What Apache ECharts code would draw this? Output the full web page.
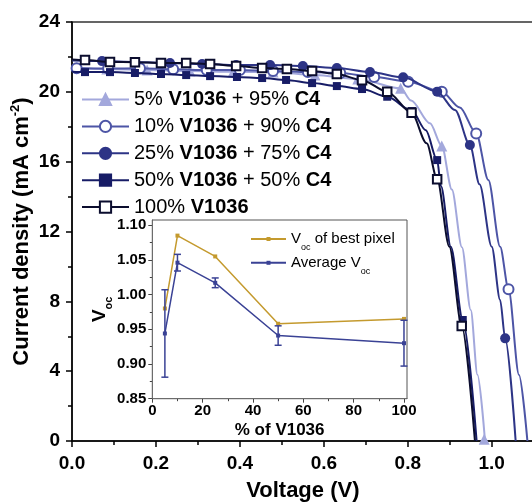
<!DOCTYPE html>
<html><head><meta charset="utf-8">
<script src="https://cdn.jsdelivr.net/npm/echarts@6/dist/echarts.min.js"></script>
<style>html,body{margin:0;padding:0;background:#fff}#c{width:532px;height:502px}</style>
</head><body><div id="c"></div>
<script>
// ---------------- data ----------------
const seriesNames = ['5% V1036 + 95% C4', '10% V1036 + 90% C4', '25% V1036 + 75% C4', '50% V1036 + 50% C4', '100% V1036'];
// J-V curves [voltage V, current density mA cm-2]
const curve5 = [[0,21.35],[0.083,21.31],[0.179,21.25],[0.281,21.19],[0.384,21.15],[0.479,21.13],[0.579,20.96],[0.681,20.73],[0.783,20.20],[0.808,19.5],[0.853,18.2],[0.881,16.9],[0.905,14.4],[0.929,11.1],[0.950,7.5],[0.966,3.8],[0.984,0]];
const marks5 = [[0.083,21.31],[0.179,21.25],[0.281,21.19],[0.384,21.15],[0.479,21.13],[0.579,20.96],[0.681,20.73],[0.783,20.20],[0.881,16.9],[0.982,0.1]];
const curve10 = [[0,21.36],[0.086,21.33],[0.162,21.35],[0.241,21.29],[0.321,21.25],[0.400,21.25],[0.479,21.19],[0.562,21.13],[0.639,21.08],[0.720,20.85],[0.801,20.58],[0.881,20.01],[0.924,19.1],[0.963,17.62],[0.992,14.95],[1.020,11.13],[1.040,8.69],[1.065,3.78],[1.085,0]];
const marks10 = [[0.011,21.35],[0.086,21.33],[0.162,21.35],[0.241,21.29],[0.321,21.25],[0.400,21.25],[0.479,21.19],[0.562,21.13],[0.639,21.08],[0.720,20.85],[0.801,20.58],[0.881,20.01],[0.963,17.62],[1.040,8.69]];
const curve25 = [[0,21.8],[0.0715,21.76],[0.150,21.71],[0.2335,21.65],[0.310,21.59],[0.391,21.53],[0.472,21.53],[0.550,21.48],[0.631,21.36],[0.710,21.13],[0.789,20.83],[0.870,20.01],[0.9125,18.96],[0.948,16.95],[0.971,14.7],[1.000,11.13],[1.020,8.08],[1.032,5.88],[1.057,0]];
const marks25 = [[0.0715,21.76],[0.150,21.71],[0.2335,21.65],[0.310,21.59],[0.391,21.53],[0.472,21.53],[0.550,21.48],[0.631,21.36],[0.710,21.13],[0.789,20.83],[0.870,20.01],[0.948,16.95],[1.032,5.88]];
const curve50 = [[0,21.15],[0.031,21.13],[0.0905,21.13],[0.150,21.08],[0.212,21.02],[0.272,20.96],[0.329,20.90],[0.393,20.85],[0.453,20.79],[0.510,20.68],[0.572,20.50],[0.631,20.33],[0.691,20.16],[0.751,19.72],[0.810,18.9],[0.843,17.8],[0.870,16.09],[0.879,14.6],[0.9025,11.13],[0.931,6.93],[0.964,0]];
const marks50 = [[0.031,21.13],[0.0905,21.13],[0.150,21.08],[0.212,21.02],[0.272,20.96],[0.329,20.90],[0.393,20.85],[0.453,20.79],[0.510,20.68],[0.572,20.50],[0.631,20.33],[0.691,20.16],[0.751,19.72],[0.810,18.9],[0.870,16.09],[0.931,6.93]];
const curve100 = [[0,21.85],[0.031,21.82],[0.0905,21.71],[0.150,21.70],[0.212,21.65],[0.272,21.65],[0.329,21.59],[0.391,21.48],[0.453,21.36],[0.512,21.31],[0.572,21.19],[0.631,21.02],[0.691,20.67],[0.751,20.01],[0.809,18.80],[0.845,17.05],[0.870,14.99],[0.899,11.13],[0.9285,6.59],[0.960,0]];
const marks100 = [[0.031,21.82],[0.0905,21.71],[0.150,21.70],[0.212,21.65],[0.272,21.65],[0.329,21.59],[0.391,21.48],[0.453,21.36],[0.512,21.31],[0.572,21.19],[0.631,21.02],[0.691,20.67],[0.751,20.01],[0.809,18.80],[0.870,14.99],[0.9285,6.59]];
// inset: Voc vs % of V1036
const insetX = [5, 10, 25, 50, 100];
const vocBest = [0.980, 1.085, 1.055, 0.958, 0.965];
const vocAvg = [0.944, 1.046, 1.017, 0.941, 0.930];
const vocErr = [0.063, 0.012, 0.007, 0.014, 0.033];
const insetNames = ['Voc of best pixel', 'Average Voc'];
// tick labels
const xTicks = [0, 0.2, 0.4, 0.6, 0.8, 1.0];
const yTicks = [0, 4, 8, 12, 16, 20, 24];
const insetXTicks = [0, 20, 40, 60, 80, 100];
const insetYTicks = [0.85, 0.90, 0.95, 1.00, 1.05, 1.10];

// ---------------- chart ----------------
const FONT = 'Liberation Sans, Arial, sans-serif';
const colors = ['#a3a8dc', '#4d55a6', '#2d3486', '#171c66', '#0b0d2e'];
const symbols = ['triangle', 'emptyCircle', 'circle', 'rect', 'emptyRect'];
const symSizes = [11, 10, 10, 8, 8.5];
const curves = [curve5, curve10, curve25, curve50, curve100];
const marks = [marks5, marks10, marks25, marks50, marks100];
const GOLD = '#c49a2e', BLUE = '#3a4295';

const series = [];
seriesNames.forEach((n, i) => {
  series.push({
    name: n, type: 'line', xAxisIndex: 0, yAxisIndex: 0,
    data: curves[i], showSymbol: false, symbol: symbols[i], symbolSize: symSizes[i],
    smooth: 0.3, smoothMonotone: 'x', clip: true,
    lineStyle: {color: colors[i], width: 2},
    itemStyle: {color: colors[i], borderColor: colors[i], borderWidth: 2},
    z: 2 + i * 2, silent: true
  });
  series.push({
    name: n + ' markers', type: 'scatter', xAxisIndex: 0, yAxisIndex: 0,
    data: marks[i], symbol: symbols[i], symbolSize: symSizes[i], clip: false,
    itemStyle: {color: colors[i], borderColor: colors[i], borderWidth: symbols[i].indexOf('empty') === 0 ? 2 : 0, opacity: 1},
    z: 3 + i * 2, silent: true
  });
});
series.push({
  name: insetNames[0], type: 'line', xAxisIndex: 2, yAxisIndex: 1,
  data: insetX.map((x, k) => [x, vocBest[k]]), symbol: 'rect', symbolSize: 4, showSymbol: true,
  lineStyle: {color: GOLD, width: 1.5}, itemStyle: {color: GOLD}, z: 10
});
series.push({
  name: insetNames[1], type: 'line', xAxisIndex: 2, yAxisIndex: 1,
  data: insetX.map((x, k) => [x, vocAvg[k]]), symbol: 'rect', symbolSize: 4, showSymbol: true,
  lineStyle: {color: BLUE, width: 1.5}, itemStyle: {color: BLUE}, z: 11
});
series.push({
  name: 'err', type: 'custom', xAxisIndex: 2, yAxisIndex: 1, z: 12,
  data: insetX.map((x, k) => [x, vocAvg[k], vocErr[k]]),
  renderItem: function (params, api) {
    const x = api.value(0), y = api.value(1), e = api.value(2);
    const t = api.coord([x, y + e]), b = api.coord([x, y - e]);
    const hw = 3.5, st = {stroke: BLUE, lineWidth: 1.5};
    return {type: 'group', children: [
      {type: 'line', shape: {x1: t[0], y1: t[1], x2: b[0], y2: b[1]}, style: st},
      {type: 'line', shape: {x1: t[0] - hw, y1: t[1], x2: t[0] + hw, y2: t[1]}, style: st},
      {type: 'line', shape: {x1: b[0] - hw, y1: b[1], x2: b[0] + hw, y2: b[1]}, style: st}
    ]};
  }
});

const boldLbl = {fontFamily: FONT, fontWeight: 'bold', color: '#000'};

const option = {
  animation: false,
  backgroundColor: '#fff',
  grid: [
    {left: 72, top: 22, width: 461.7, height: 419, containLabel: false, outerBoundsMode: 'none',
     show: true, borderColor: '#333', borderWidth: 1.5, backgroundColor: 'transparent'},
    {left: 152.3, top: 220, width: 254.7, height: 178.7, containLabel: false, outerBoundsMode: 'none',
     show: true, borderColor: '#555', borderWidth: 1, backgroundColor: '#fff', z: 5}
  ],
  legend: [
    {
      data: seriesNames, orient: 'vertical', left: 81, top: 89.5, padding: 0, itemWidth: 47, itemHeight: 14, itemGap: 6.9,
      selectedMode: false,
      formatter: function (name) {
        return name.split(' ').map(w => (w === 'V1036' || w === 'C4') ? '{b|' + w + '}' : '{n|' + w + '}').join('{n| }');
      },
      textStyle: {fontFamily: FONT, fontSize: 20, color: '#000',
        rich: {n: {fontFamily: FONT, fontSize: 20, color: '#000', lineHeight: 20},
               b: {fontFamily: FONT, fontSize: 20, fontWeight: 'bold', color: '#000', lineHeight: 20}}}
    },
    {
      data: insetNames, orient: 'vertical', left: 250, top: 231.5, padding: 0, itemWidth: 35, itemHeight: 5, itemGap: 3.3,
      selectedMode: false, z: 20,
      formatter: function (name) {
        if (name.indexOf('Average') === 0) return '{v|Average V}{s|oc}';
        return '{v|V}{s|oc}{v| of best pixel}';
      },
      textStyle: {fontFamily: FONT, fontSize: 15, color: '#000',
        rich: {v: {fontFamily: FONT, fontSize: 15, color: '#000', lineHeight: 20},
               s: {fontFamily: FONT, fontSize: 9, color: '#000', lineHeight: 20, verticalAlign: 'bottom', padding: [0, 0, -3, 0]}}}
    }
  ],
  xAxis: [
    {
      type: 'value', gridIndex: 0, position: 'bottom', min: 0, max: 1.1, interval: 0.2,
      axisLine: {onZero: false, lineStyle: {color: '#000', width: 1.5}},
      axisTick: {inside: false, length: 6, lineStyle: {color: '#000', width: 1.5}},
      axisLabel: Object.assign({fontSize: 19, margin: 13, showMaxLabel: false,
        formatter: v => xTicks.some(t => Math.abs(t - v) < 1e-9) ? v.toFixed(1) : ''}, boldLbl),
      splitLine: {show: false},
      name: 'Voltage (V)', nameLocation: 'middle', nameGap: 39, nameMoveOverlap: false,
      nameTextStyle: Object.assign({fontSize: 22}, boldLbl)
    },
    {
      type: 'value', gridIndex: 0, position: 'bottom', min: 0, max: 1.1, interval: 0.1,
      axisLine: {show: false, onZero: false},
      axisTick: {inside: false, length: 4, lineStyle: {color: '#000', width: 1.5}},
      axisLabel: {show: false}, splitLine: {show: false}
    },
    {
      type: 'value', gridIndex: 1, position: 'bottom', min: 0, max: 101.2, interval: 20,
      axisLine: {onZero: false, lineStyle: {color: '#444', width: 1}},
      axisTick: {inside: false, length: 4, lineStyle: {color: '#444', width: 1}, customValues: insetXTicks},
      minorTick: {show: true, splitNumber: 2, length: 2.5, lineStyle: {color: '#444', width: 1}},
      axisLabel: Object.assign({fontSize: 15, margin: 5, customValues: insetXTicks,
        formatter: v => insetXTicks.indexOf(v) >= 0 ? String(v) : ''}, boldLbl),
      splitLine: {show: false}, minorSplitLine: {show: false},
      name: '% of V1036', nameLocation: 'middle', nameGap: 23, nameMoveOverlap: false,
      nameTextStyle: Object.assign({fontSize: 17}, boldLbl)
    }
  ],
  yAxis: [
    {
      type: 'value', gridIndex: 0, min: 0, max: 24, interval: 4,
      axisLine: {onZero: false, lineStyle: {color: '#000', width: 1.5}},
      axisTick: {inside: false, length: 6, lineStyle: {color: '#000', width: 1.5}},
      minorTick: {show: true, splitNumber: 2, length: 4, lineStyle: {color: '#000', width: 1.5}},
      axisLabel: Object.assign({fontSize: 19, margin: 12,
        formatter: v => yTicks.indexOf(v) >= 0 ? String(v) : ''}, boldLbl),
      splitLine: {show: false}, minorSplitLine: {show: false},
      name: '{t|Current density (mA cm}{sup|-2}{t|)}', nameLocation: 'middle', nameGap: 37, nameRotate: 90,
      nameMoveOverlap: false,
      nameTextStyle: Object.assign({fontSize: 22, rich: {
        t: {fontFamily: FONT, fontWeight: 'bold', fontSize: 22, color: '#000', lineHeight: 26},
        sup: {fontFamily: FONT, fontWeight: 'bold', fontSize: 13, color: '#000', lineHeight: 26, verticalAlign: 'top', padding: [0, 0, 8, 0]}
      }}, boldLbl)
    },
    {
      type: 'value', gridIndex: 1, min: 0.85, max: 1.1075, interval: 0.05,
      axisLine: {onZero: false, lineStyle: {color: '#444', width: 1}},
      axisTick: {inside: false, length: 4, lineStyle: {color: '#444', width: 1}, customValues: insetYTicks},
      minorTick: {show: true, splitNumber: 2, length: 2.5, lineStyle: {color: '#444', width: 1}},
      axisLabel: Object.assign({fontSize: 15, margin: 6, customValues: insetYTicks,
        formatter: v => insetYTicks.some(t => Math.abs(t - v) < 1e-9) ? v.toFixed(2) : ''}, boldLbl),
      splitLine: {show: false}, minorSplitLine: {show: false},
      name: '{v|V}{s|oc}', nameLocation: 'middle', nameGap: 42, nameRotate: 90, nameMoveOverlap: false,
      nameTextStyle: Object.assign({fontSize: 19, rich: {
        v: {fontFamily: FONT, fontWeight: 'bold', fontSize: 19, color: '#000', lineHeight: 22},
        s: {fontFamily: FONT, fontWeight: 'bold', fontSize: 11, color: '#000', lineHeight: 22, verticalAlign: 'bottom', padding: [0, 0, -4, 0]}
      }}, boldLbl)
    }
  ],
  series: series
};

const chart = echarts.init(document.getElementById('c'), null, {renderer: 'canvas'});
chart.setOption(option);
</script>
</body></html>
